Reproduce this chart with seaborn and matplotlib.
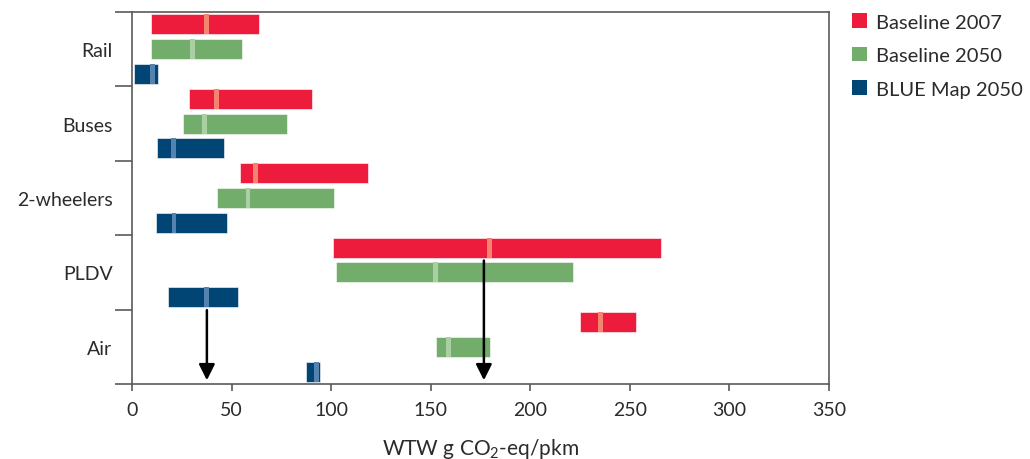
import numpy as np
import pandas as pd
import matplotlib
matplotlib.use('Agg')
import matplotlib.pyplot as plt
import seaborn as sns
from matplotlib.patches import Patch

# values (g CO2-eq/pkm)
categories = ['Rail', 'Buses', '2-wheelers', 'PLDV', 'Air']
series = ['Baseline 2007', 'Baseline 2050', 'BLUE Map 2050']

low_2007 = [9.3, 28.6, 54.4, 100.9, 225.1]
high_2007 = [63.7, 90.5, 118.3, 265.8, 253.2]
mean_2007 = [37.6, 42.5, 61.9, 179.4, 235.1]

low_2050 = [9.3, 25.5, 42.8, 102.5, 152.9]
high_2050 = [55.4, 78.0, 101.4, 221.3, 179.9]
mean_2050 = [30.5, 36.4, 58.2, 152.3, 159.1]

low_blue = [0.9, 12.5, 12.3, 17.9, 87.5]
high_blue = [13.0, 46.0, 47.5, 53.1, 94.6]
mean_blue = [10.4, 20.9, 21.1, 37.6, 92.7]

# arrows: x position and the PLDV bar they start under
arrow_x = [37.6, 176.7]
arrow_series = ['BLUE Map 2050', 'Baseline 2007']

colors = ['#ee1c3c', '#72ad6b', '#004574']
mean_colors = ['#f4836f', '#a9cfa2', '#5583b0']

lows = [low_2007, low_2050, low_blue]
highs = [high_2007, high_2050, high_blue]
means = [mean_2007, mean_2050, mean_blue]

rows = []
for s, lo, hi, me in zip(series, lows, highs, means):
    for c, l, h, m in zip(categories, lo, hi, me):
        rows.append({'mode': c, 'scenario': s, 'low': l, 'high': h, 'mean': m})
df = pd.DataFrame(rows)

sns.set_style('ticks')
plt.rcParams['font.family'] = ['Lato', 'DejaVu Sans']
plt.rcParams['mathtext.default'] = 'regular'
text_col = '#2b2b2b'
frame_col = '#5a5a5a'

fig = plt.figure(figsize=(10.3, 4.6), dpi=100)
ax = fig.add_axes([132 / 1030, 1 - 385 / 460, (829 - 132) / 1030, (385 - 13) / 460])

sns.barplot(data=df, x='high', y='mode', hue='scenario', order=categories,
            hue_order=series, palette=colors, orient='h', width=1.0, gap=0.2,
            errorbar=None, legend=False, saturation=1, ax=ax,
            edgecolor='white', linewidth=0.4)

# turn the bars into floating ranges and add the mean stripe
bar_geom = {}
for cont, s, lo, me, mc in zip(ax.containers, series, lows, means, mean_colors):
    for p, c, l, m in zip(cont.patches, categories, lo, me):
        hi = p.get_width()
        p.set_x(l)
        p.set_width(hi - l)
        y0, h = p.get_y(), p.get_height()
        bar_geom[(s, c)] = (y0, h)
        ax.barh(y0 + h / 2, 2.4, left=m - 1.2, height=h, color=mc, linewidth=0)

for x, s in zip(arrow_x, arrow_series):
    y0, h = bar_geom[(s, 'PLDV')]
    ax.annotate('', xy=(x, 4.45), xytext=(x, y0 + h + 0.04),
                arrowprops=dict(arrowstyle='-|>', color='black', lw=1.8,
                                mutation_scale=24, shrinkA=0, shrinkB=0))

ax.set_xlim(0, 350)
ax.set_ylim(4.5, -0.5)
ax.set_xticks(np.arange(0, 351, 50))
ax.set_yticks(range(len(categories)))
ax.set_yticklabels(categories)
ax.set_yticks(np.arange(-0.5, len(categories), 1.0), minor=True)
ax.tick_params(axis='y', which='major', length=0, pad=14, labelsize=14, labelcolor=text_col)
ax.tick_params(axis='y', which='minor', length=12, width=1.2, color=frame_col, direction='out')
ax.tick_params(axis='x', length=5, width=1.2, color=frame_col, pad=7, labelsize=14, labelcolor=text_col)
ax.set_ylabel('')
ax.set_xlabel('WTW g CO$_2$-eq/pkm', fontsize=15, color=text_col, labelpad=13)
for sp in ax.spines.values():
    sp.set_visible(True)
    sp.set_color(frame_col)
    sp.set_linewidth(1.2)

handles = [Patch(facecolor=c, edgecolor='none') for c in colors]
fig.legend(handles, series, loc='upper left', bbox_to_anchor=(834 / 1030, 1 + 4 / 460),
           frameon=False, handlelength=0.75, handleheight=0.75, handletextpad=0.45,
           labelspacing=0.8, fontsize=14.5, labelcolor=text_col)

fig.savefig('out.png', dpi=100)
